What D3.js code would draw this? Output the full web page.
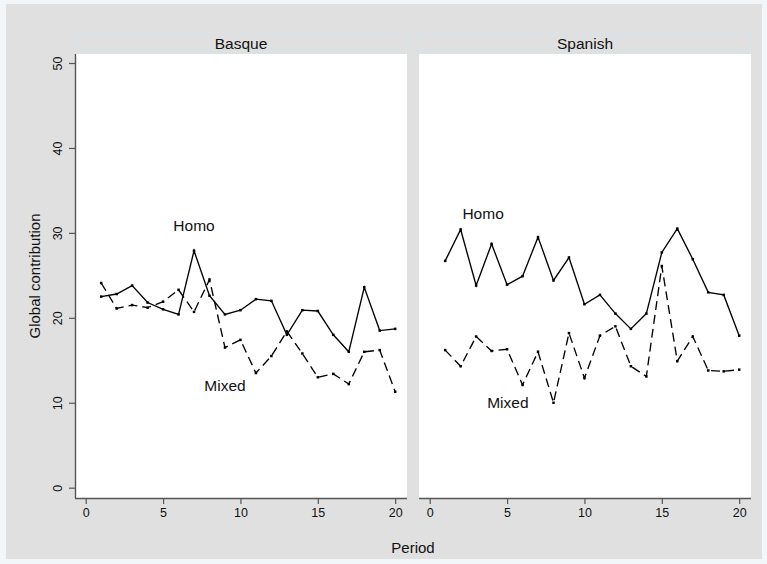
<!DOCTYPE html>
<html>
<head>
<meta charset="utf-8">
<script src="https://cdn.jsdelivr.net/npm/d3@7/dist/d3.min.js"></script>
<style>
  html, body { margin: 0; padding: 0; background: #f3f6f8; }
  svg { display: block; font-family: "Liberation Sans", Arial, sans-serif; }
</style>
</head>
<body>
<svg id="chart" width="767" height="564"></svg>
<script>
const periods = [1,2,3,4,5,6,7,8,9,10,11,12,13,14,15,16,17,18,19,20];
const panels = ["Basque", "Spanish"];
const homoBasque   = [22.5, 22.8, 23.8, 21.8, 21.0, 20.4, 27.9, 22.6, 20.4, 20.9, 22.2, 22.0, 18.0, 20.9, 20.8, 18.0, 16.0, 23.6, 18.5, 18.7];
const mixedBasque  = [24.1, 21.1, 21.5, 21.2, 21.9, 23.3, 20.7, 24.5, 16.5, 17.4, 13.5, 15.5, 18.4, 15.8, 13.0, 13.4, 12.2, 16.0, 16.2, 11.3];
const homoSpanish  = [26.7, 30.4, 23.8, 28.7, 23.9, 24.9, 29.5, 24.4, 27.1, 21.6, 22.7, 20.5, 18.7, 20.5, 27.7, 30.5, 26.9, 23.0, 22.7, 17.9];
const mixedSpanish = [16.2, 14.3, 17.8, 16.1, 16.3, 12.1, 16.0, 10.0, 18.2, 12.9, 17.9, 19.0, 14.3, 13.1, 26.1, 14.9, 17.8, 13.8, 13.7, 13.9];
const xTicks = [0, 5, 10, 15, 20];
const yTicks = [0, 10, 20, 30, 40, 50];
// annotation labels: [panel index, text, period position, value position]
const labels = [
  [0, "Homo", 7, 30.2],
  [0, "Mixed", 9, 11.4],
  [1, "Homo", 3.45, 31.6],
  [1, "Mixed", 5.05, 9.4]
];

const series = [
  { homo: homoBasque, mixed: mixedBasque },
  { homo: homoSpanish, mixed: mixedSpanish }
];

const svg = d3.select("#chart");
const bg = "#e0e0e0";

svg.append("rect").attr("x", 6).attr("y", 4).attr("width", 756).attr("height", 555).attr("fill", bg);

const panelLeft = [75, 419];
const panelW = 332;
const plotTop = 54, plotBottom = 498;
const headerTop = 32;

const y = d3.scaleLinear().domain([0, 50]).range([487.7, 63]);

panels.forEach((name, i) => {
  const left = panelLeft[i];
  const x = d3.scaleLinear().domain([0, 20]).range([left + 10.7, left + 320.2]);

  // header strip
  svg.append("rect").attr("x", left + 0.5).attr("y", headerTop + 0.5)
    .attr("width", panelW - 1).attr("height", plotTop - headerTop - 1)
    .attr("fill", bg).attr("stroke", "#d6e4ec").attr("stroke-width", 1);
  svg.append("text").attr("x", left + panelW / 2).attr("y", 48.5)
    .attr("text-anchor", "middle").attr("font-size", 15.5).attr("fill", "#111").text(name);

  // plot area
  svg.append("rect").attr("x", left).attr("y", plotTop)
    .attr("width", panelW).attr("height", plotBottom - plotTop).attr("fill", "#fff");

  // x axis
  const xAxis = d3.axisBottom(x).tickValues(xTicks).tickSize(6).tickPadding(4).tickFormat(d3.format("d"));
  const gx = svg.append("g").attr("transform", `translate(0,${plotBottom})`).call(xAxis);
  gx.select(".domain").attr("d", `M${left},0.5H${left + panelW}`).attr("stroke", "#555").attr("stroke-width", 1.4);
  gx.selectAll(".tick line").attr("stroke", "#555").attr("stroke-width", 1.2);
  gx.selectAll(".tick text").attr("font-size", 12.5).attr("fill", "#111")
    .attr("font-family", "Liberation Sans, Arial, sans-serif");

  if (i === 0) {
    const yAxis = d3.axisLeft(y).tickValues(yTicks).tickSize(6).tickPadding(0).tickFormat(d3.format("d"));
    const gy = svg.append("g").attr("transform", `translate(${left},0)`).call(yAxis);
    gy.select(".domain").attr("d", `M0.5,${plotTop}V${plotBottom}`).attr("stroke", "#555").attr("stroke-width", 1.4);
    gy.selectAll(".tick line").attr("stroke", "#555").attr("stroke-width", 1.2);
    gy.selectAll(".tick text").attr("font-size", 12.5).attr("fill", "#111")
      .attr("font-family", "Liberation Sans, Arial, sans-serif")
      .attr("text-anchor", "middle").attr("dy", null)
      .attr("transform", "translate(-17.5,0) rotate(-90)")
      .attr("x", 0).attr("y", 0).attr("dominant-baseline", "central");
  }

  const line = d3.line().x((d, j) => x(periods[j])).y(d => y(d));
  const s = series[i];
  svg.append("path").datum(s.homo).attr("d", line).attr("fill", "none")
    .attr("stroke", "#000").attr("stroke-width", 1.35).attr("stroke-linejoin", "miter");
  svg.append("path").datum(s.mixed).attr("d", line).attr("fill", "none")
    .attr("stroke", "#000").attr("stroke-width", 1.35).attr("stroke-dasharray", "9,5");

  [s.homo, s.mixed].forEach(arr => {
    svg.append("g").selectAll("rect").data(arr).join("rect")
      .attr("x", (d, j) => x(periods[j]) - 1.25).attr("y", d => y(d) - 1.25)
      .attr("width", 2.5).attr("height", 2.5).attr("fill", "#000");
  });

  labels.filter(l => l[0] === i).forEach(l => {
    svg.append("text").attr("x", x(l[2])).attr("y", y(l[3]))
      .attr("text-anchor", "middle").attr("font-size", 15.5).attr("fill", "#111").text(l[1]);
  });
});

// axis titles
svg.append("text").attr("x", 413).attr("y", 553).attr("text-anchor", "middle")
  .attr("font-size", 15).attr("fill", "#111").text("Period");
svg.append("text").attr("transform", `translate(40,276) rotate(-90)`).attr("text-anchor", "middle")
  .attr("font-size", 15).attr("fill", "#111").text("Global contribution");
</script>
</body>
</html>
